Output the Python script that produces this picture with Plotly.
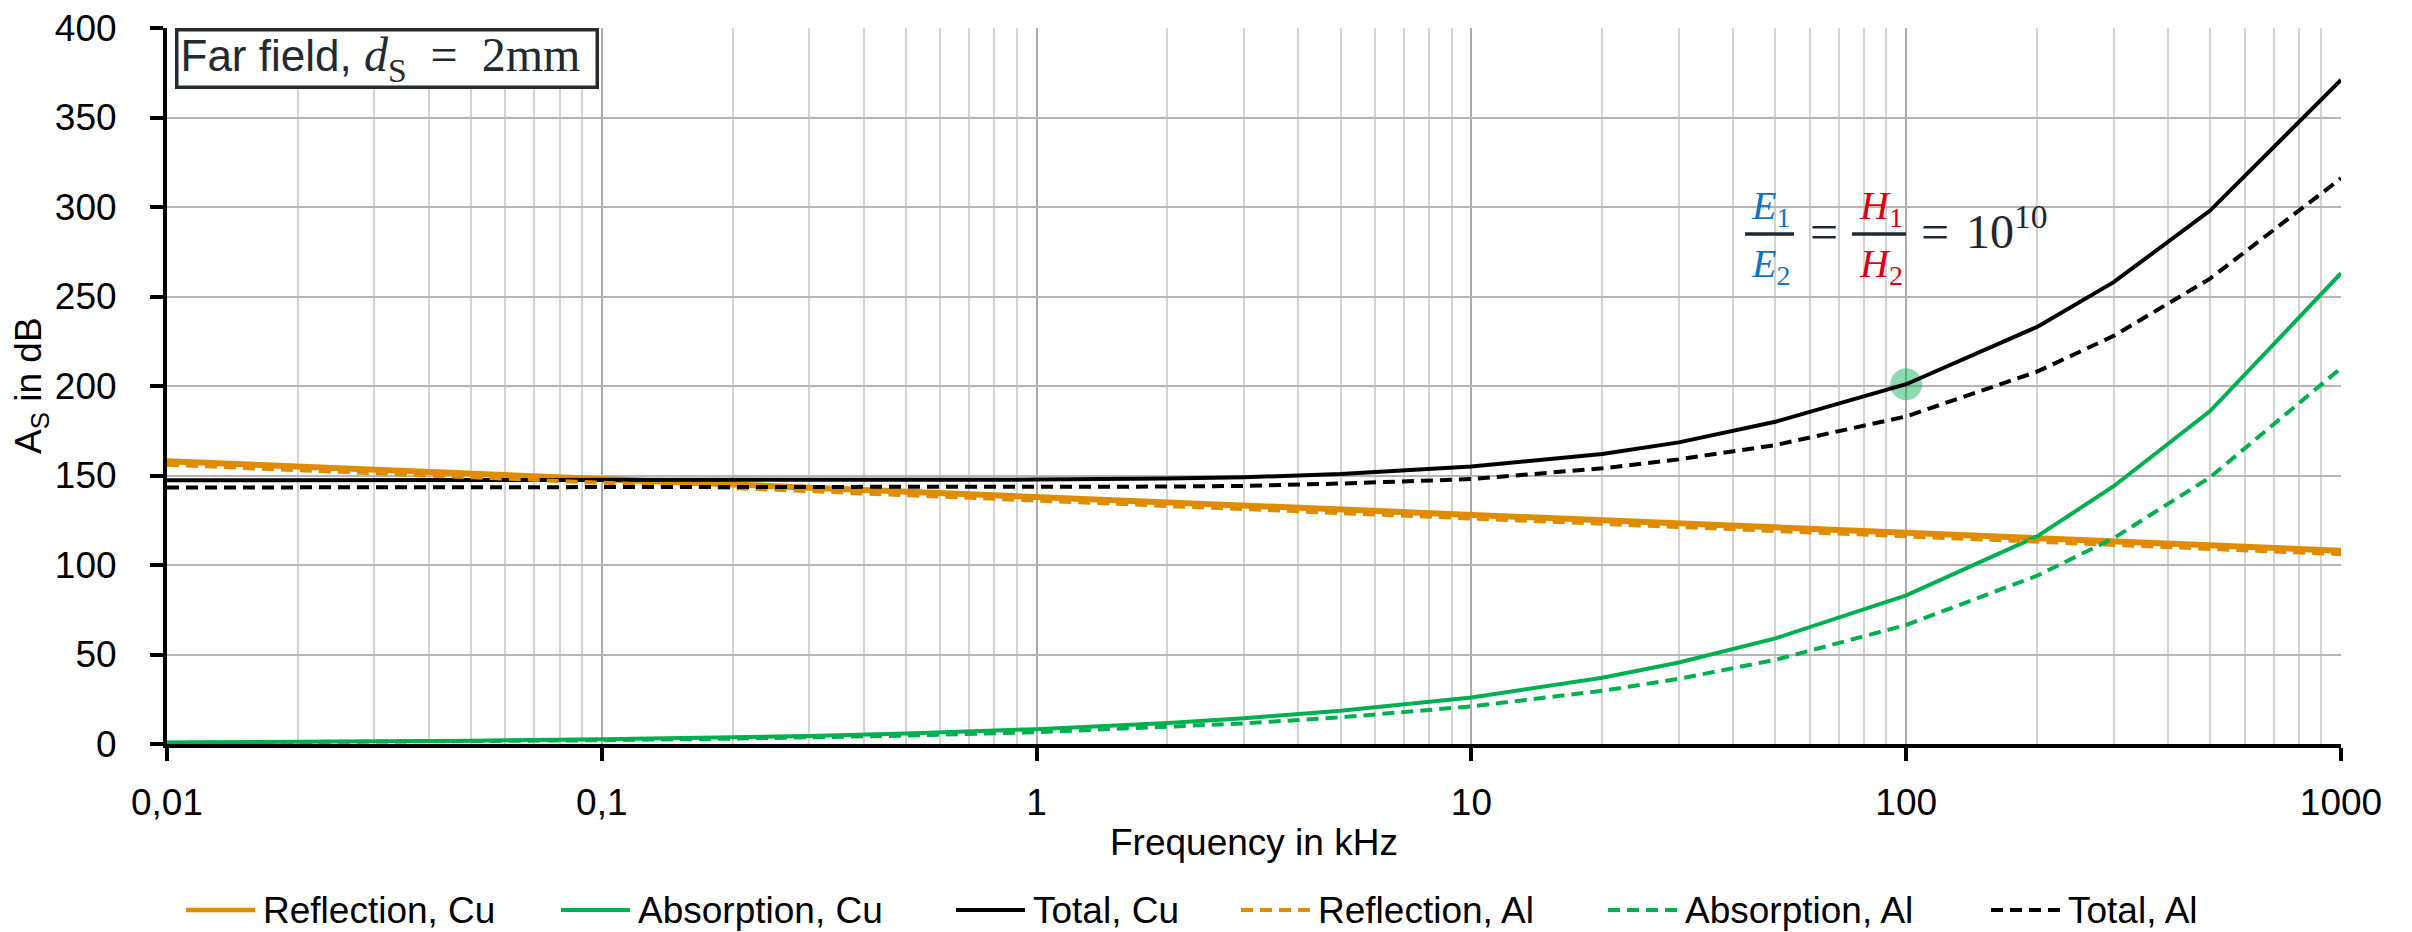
import plotly.graph_objects as go

# ---------------- data ----------------
freq_khz = [0.01, 0.02, 0.03, 0.05, 0.1, 0.2, 0.3, 0.5, 1, 2, 3, 5,
            10, 20, 30, 50, 100, 200, 300, 500, 1000]
reflection_cu = [158, 155, 153.2, 151, 148, 145, 143.2, 141, 138, 135, 133.2, 131,
                 128, 125, 123.2, 121, 118, 115, 113.2, 111, 108]
absorption_cu = [0.83, 1.17, 1.44, 1.86, 2.6, 3.7, 4.5, 5.9, 8.3, 11.7, 14.4, 18.6,
                 26, 37, 45.5, 59, 83, 116, 144, 186, 263]
total_cu = [147.3, 147.3, 147.3, 147.3, 147.3, 147.3, 147.3, 147.4, 147.7, 148.3, 149, 150.8,
            155, 162, 168.5, 180, 201, 233, 258, 298, 371]
reflection_al = [156, 153, 151.2, 149, 146, 143, 141.2, 139, 136, 133, 131.2, 129,
                 126, 123, 121.2, 119, 116, 113, 111.2, 109, 106]
absorption_al = [0.66, 0.94, 1.15, 1.5, 2.1, 3.0, 3.6, 4.7, 6.6, 9.4, 11.5, 14.9,
                 21, 29.7, 36.4, 47, 66.5, 94, 115, 149, 210]
total_al = [143.3, 143.3, 143.3, 143.3, 143.3, 143.3, 143.3, 143.3, 143.4, 143.8, 144.2, 145.5,
            148, 154, 159, 167, 183, 208, 228, 260, 316]

marker_freq = [100]
marker_level = [201]

series_names = ["Reflection, Cu", "Absorption, Cu", "Total, Cu",
                "Reflection, Al", "Absorption, Al", "Total, Al"]
x_tick_vals = [0.01, 0.1, 1, 10, 100, 1000]
x_tick_text = ["0,01", "0,1", "1", "10", "100", "1000"]
minor_digits = [2, 3, 4, 5, 6, 7, 8, 9]
decades = [0.01, 0.1, 1, 10, 100]
y_tick_vals = [0, 50, 100, 150, 200, 250, 300, 350, 400]

# ---------------- styles ----------------
ORANGE = "#E08C00"
GREEN = "#00B050"
BLACK = "#000000"
DASH = "12px,7px"
SANS = "Liberation Sans, Arial, sans-serif"
SERIF = "Liberation Serif, DejaVu Serif, serif"
FS = 37

series_values = [reflection_cu, absorption_cu, total_cu,
                 reflection_al, absorption_al, total_al]
series_style = [
    dict(color=ORANGE, width=6, dash="solid"),
    dict(color=GREEN, width=4, dash="solid"),
    dict(color=BLACK, width=4, dash="solid"),
    dict(color=ORANGE, width=4, dash=DASH),
    dict(color=GREEN, width=4, dash=DASH),
    dict(color=BLACK, width=4, dash=DASH),
]

W, H = 2412, 932
L, R, T, B = 167, 71, 28, 188
PW, PH = W - L - R, H - T - B


def px(x):
    return (x - L) / PW


def py(y):
    return (H - B - y) / PH


fig = go.Figure()

fig.add_trace(go.Scatter(
    x=marker_freq, y=marker_level, mode="markers",
    marker=dict(size=32, color="rgba(0,176,80,0.45)", line=dict(width=0)),
    showlegend=False, hoverinfo="skip"))

for name, vals, st in zip(series_names, series_values, series_style):
    fig.add_trace(go.Scatter(
        x=freq_khz, y=vals, mode="lines", name=name,
        line=dict(color=st["color"], width=st["width"], dash=st["dash"]),
        showlegend=False))

minor_vals = [d * m for d in decades for m in minor_digits]

fig.update_xaxes(
    type="log", range=[-2, 3],
    tickmode="array", tickvals=x_tick_vals, ticktext=x_tick_text,
    ticks="outside", ticklen=13, tickwidth=4, tickcolor="black",
    ticklabelstandoff=10,
    showline=True, linecolor="black", linewidth=4,
    showgrid=True, gridcolor="#ababab", gridwidth=2,
    minor=dict(tickmode="array", tickvals=minor_vals, showgrid=True,
               gridcolor="#d3d3d3", gridwidth=1.5, ticks=""),
    zeroline=False,
    tickfont=dict(family=SANS, size=FS, color="black"),
)
fig.update_yaxes(
    range=[0, 400], tickmode="array", tickvals=y_tick_vals,
    ticks="outside", ticklen=13, tickwidth=4, tickcolor="black",
    ticklabelstandoff=26,
    showline=True, linecolor="black", linewidth=4,
    showgrid=True, gridcolor="#b8b4b4", gridwidth=2,
    zeroline=False,
    tickfont=dict(family=SANS, size=FS, color="black"),
)

annotations = []
shapes = []

# axis titles
annotations.append(dict(xref="paper", yref="paper", x=0.5, y=py(843),
                        text="Frequency in kHz", showarrow=False,
                        xanchor="center", yanchor="middle",
                        font=dict(family=SANS, size=FS, color="black")))
annotations.append(dict(xref="paper", yref="paper", x=px(31), y=py(386),
                        text="A<sub>S</sub> in dB", showarrow=False, textangle=-90,
                        xanchor="center", yanchor="middle",
                        font=dict(family=SANS, size=FS, color="black")))

# "Far field" box
annotations.append(dict(
    xref="paper", yref="paper", x=px(175), y=py(28), xanchor="left", yanchor="top",
    showarrow=False, align="left", width=413, height=50,
    bordercolor="#262b30", borderwidth=3.5, borderpad=2, bgcolor="white",
    text=("<span style='font-family:Liberation Sans;font-size:44px'>Far field, </span>"
          "<i>d</i><sub>S</sub>\u2002=\u20022mm"),
    font=dict(family=SERIF, size=48, color="#222a30")))

# equation E1/E2 = H1/H2 = 10^10
shapes.append(dict(type="rect", xref="paper", yref="paper", layer="below",
                   x0=px(1731), x1=px(2080), y0=py(292), y1=py(173),
                   fillcolor="white", line=dict(width=0)))
BLUE = "#1473C3"
RED = "#E00016"
DARK = "#1f2830"
frac_font = 40


def frac_part(text, cx, cy, color):
    annotations.append(dict(xref="paper", yref="paper", x=px(cx), y=py(cy),
                            text=text, showarrow=False, xanchor="center", yanchor="middle",
                            font=dict(family=SERIF, size=frac_font, color=color)))


frac_part("<i>E</i><sub>1</sub>", 1770, 208, BLUE)
frac_part("<i>E</i><sub>2</sub>", 1770, 266, BLUE)
frac_part("<i>H</i><sub>1</sub>", 1881, 208, RED)
frac_part("<i>H</i><sub>2</sub>", 1881, 266, RED)
for x0, x1 in [(1745, 1794), (1852, 1906)]:
    shapes.append(dict(type="line", xref="paper", yref="paper",
                       x0=px(x0), x1=px(x1), y0=py(234), y1=py(234),
                       line=dict(color=DARK, width=3.5)))
for cx in [1824, 1935]:
    annotations.append(dict(xref="paper", yref="paper", x=px(cx), y=py(232),
                            text="=", showarrow=False, xanchor="center", yanchor="middle",
                            font=dict(family=SERIF, size=50, color=DARK)))
annotations.append(dict(xref="paper", yref="paper", x=px(1964), y=py(228),
                        text="10<sup>10</sup>", showarrow=False,
                        xanchor="left", yanchor="middle",
                        font=dict(family=SERIF, size=48, color=DARK)))

# custom legend (long swatches, Excel-like spacing)
legend_x = [186, 561, 956, 1241, 1608, 1991]
legend_y = 910
swatch_len = 69
for name, st, lx in zip(series_names, series_style, legend_x):
    shapes.append(dict(type="line", xref="paper", yref="paper",
                       x0=px(lx), x1=px(lx + swatch_len), y0=py(legend_y), y1=py(legend_y),
                       line=dict(color=st["color"], width=min(st["width"], 4.5),
                                 dash=st["dash"])))
    annotations.append(dict(xref="paper", yref="paper", x=px(lx + swatch_len + 6),
                            y=py(legend_y), text=name, showarrow=False,
                            xanchor="left", yanchor="middle",
                            font=dict(family=SANS, size=FS, color="black")))

fig.update_layout(
    width=W, height=H,
    margin=dict(l=L, r=R, t=T, b=B, autoexpand=False),
    paper_bgcolor="white", plot_bgcolor="white",
    showlegend=False,
    annotations=annotations, shapes=shapes,
)

fig.write_html("out.html")
